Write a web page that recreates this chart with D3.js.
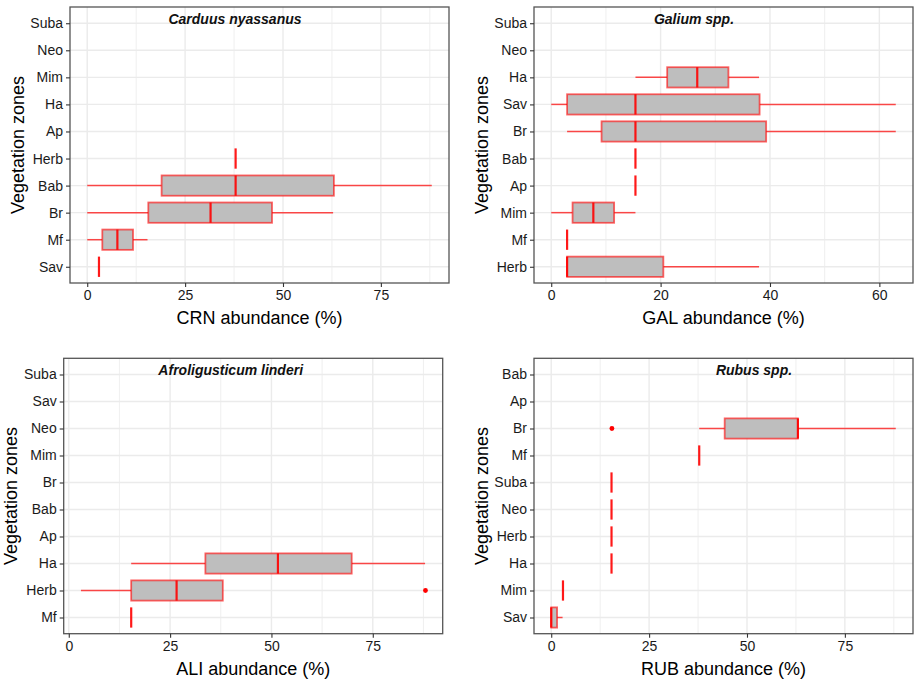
<!DOCTYPE html>
<html>
<head>
<meta charset="utf-8">
<script src="https://cdn.jsdelivr.net/npm/d3@7"></script>
<style>
  body { margin: 0; background: #fff; }
  svg { display: block; font-family: "Liberation Sans", Arial, sans-serif; }
</style>
</head>
<body>
<div id="chart"></div>
<script>
// ZONE ORDER (TOP TO BOTTOM) + BOX STATS PER PANEL
// each stat array: [low whisker, q1, median, q3, high whisker], null = no data
const crnZones = ["Suba", "Neo", "Mim", "Ha", "Ap", "Herb", "Bab", "Br", "Mf", "Sav"];
const crnStats = [null, null, null, null, null,
  [37.9, 37.9, 37.9, 37.9, 37.9],
  [0, 19, 37.9, 63, 88],
  [0, 15.6, 31.5, 47.2, 62.8],
  [0, 3.85, 7.7, 11.7, 15.4],
  [3, 3, 3, 3, 3]];
const crnOutliers = [];

const galZones = ["Suba", "Neo", "Ha", "Sav", "Br", "Bab", "Ap", "Mim", "Mf", "Herb"];
const galStats = [null, null,
  [15.4, 21.2, 26.7, 32.4, 38],
  [0, 2.9, 15.4, 38.1, 63],
  [2.9, 9.2, 15.4, 39.3, 63],
  [15.4, 15.4, 15.4, 15.4, 15.4],
  [15.4, 15.4, 15.4, 15.4, 15.4],
  [0, 3.9, 7.7, 11.5, 15.4],
  [2.9, 2.9, 2.9, 2.9, 2.9],
  [2.9, 2.9, 2.9, 20.5, 38]];
const galOutliers = [];

const aliZones = ["Suba", "Sav", "Neo", "Mim", "Br", "Bab", "Ap", "Ha", "Herb", "Mf"];
const aliStats = [null, null, null, null, null, null, null,
  [15.4, 33.7, 51.6, 69.8, 87.9],
  [3, 15.4, 26.6, 38, 38],
  [15.4, 15.4, 15.4, 15.4, 15.4]];
const aliOutliers = [["Herb", 88]];

const rubZones = ["Bab", "Ap", "Br", "Mf", "Suba", "Neo", "Herb", "Ha", "Mim", "Sav"];
const rubStats = [null, null,
  [37.8, 44.3, 63, 63, 88],
  [37.8, 37.8, 37.8, 37.8, 37.8],
  [15.4, 15.4, 15.4, 15.4, 15.4],
  [15.4, 15.4, 15.4, 15.4, 15.4],
  [15.4, 15.4, 15.4, 15.4, 15.4],
  [15.4, 15.4, 15.4, 15.4, 15.4],
  [3, 3, 3, 3, 3],
  [0, 0, 0, 1.5, 2.9]];
const rubOutliers = [["Br", 15.5]];

const titles = ["Carduus nyassanus", "Galium spp.", "Afroligusticum linderi", "Rubus spp."];
const xTitles = ["CRN abundance (%)", "GAL abundance (%)", "ALI abundance (%)", "RUB abundance (%)"];
const xTicks = [[0, 25, 50, 75], [0, 20, 40, 60], [0, 25, 50, 75], [0, 25, 50, 75]];

// PANEL FRAMES (PLOT AREA) + WHERE THE TITLE SITS
const panels = [
  { zones: crnZones, stats: crnStats, outliers: crnOutliers, x0: 70, y0: 7, w: 379, h: 276, titleX: 165, yLabX: 24 },
  { zones: galZones, stats: galStats, outliers: galOutliers, x0: 534, y0: 7, w: 379, h: 276, titleX: 160, yLabX: 488 },
  { zones: aliZones, stats: aliStats, outliers: aliOutliers, x0: 63.7, y0: 358.3, w: 379, h: 275.4, titleX: 167, yLabX: 17 },
  { zones: rubZones, stats: rubStats, outliers: rubOutliers, x0: 534, y0: 358.3, w: 379, h: 275.4, titleX: 220, yLabX: 488 }
];

const width = 914;
const height = 682;
const red = "#ff0000";

const svg = d3.select("#chart")
  .append("svg")
  .attr("width", width)
  .attr("height", height);

panels.forEach((p, k) => {
  const g = svg.append("g").attr("transform", `translate(${p.x0},${p.y0})`);

  // X RANGE FROM DATA WITH GGPLOT STYLE 5% PADDING
  const vals = [];
  p.stats.forEach(s => { if (s) vals.push(...s); });
  p.outliers.forEach(o => vals.push(o[1]));
  const lo = d3.min(vals), hi = d3.max(vals);
  const pad = (hi - lo) * 0.05;
  const x = d3.scaleLinear().domain([lo - pad, hi + pad]).range([0, p.w]);

  // DISCRETE Y WITH 0.6 EXPANSION
  const n = p.zones.length;
  const step = p.h / (n - 1 + 1.2);
  const y = d3.scalePoint().domain(p.zones).range([0.6 * step, p.h - 0.6 * step]);
  const boxH = step * 0.75;

  // GRID: MINOR THEN MAJOR
  const ticks = xTicks[k];
  const tstep = ticks[1] - ticks[0];
  const minor = d3.range(ticks[0] - tstep / 2, hi + pad, tstep).filter(v => v > lo - pad && v < hi + pad && !ticks.includes(v));
  g.selectAll(".minor").data(minor).join("line")
    .attr("x1", d => x(d)).attr("x2", d => x(d))
    .attr("y1", 0).attr("y2", p.h)
    .attr("stroke", "#ebebeb").attr("stroke-width", 0.8);
  g.selectAll(".vmajor").data(ticks).join("line")
    .attr("x1", d => x(d)).attr("x2", d => x(d))
    .attr("y1", 0).attr("y2", p.h)
    .attr("stroke", "#ebebeb").attr("stroke-width", 1.4);
  g.selectAll(".hmajor").data(p.zones).join("line")
    .attr("x1", 0).attr("x2", p.w)
    .attr("y1", d => y(d)).attr("y2", d => y(d))
    .attr("stroke", "#ebebeb").attr("stroke-width", 1.4);

  // BOXES
  const boxes = p.zones.map((z, i) => ({ zone: z, s: p.stats[i] })).filter(d => d.s);
  const bg = g.selectAll(".box").data(boxes).join("g");

  bg.append("line")
    .attr("x1", d => x(d.s[0])).attr("x2", d => x(d.s[1]))
    .attr("y1", d => y(d.zone)).attr("y2", d => y(d.zone))
    .attr("stroke", red).attr("stroke-opacity", 0.7).attr("stroke-width", 1.5);
  bg.append("line")
    .attr("x1", d => x(d.s[3])).attr("x2", d => x(d.s[4]))
    .attr("y1", d => y(d.zone)).attr("y2", d => y(d.zone))
    .attr("stroke", red).attr("stroke-opacity", 0.7).attr("stroke-width", 1.5);
  bg.append("rect")
    .attr("x", d => x(d.s[1]))
    .attr("width", d => x(d.s[3]) - x(d.s[1]))
    .attr("y", d => y(d.zone) - boxH / 2)
    .attr("height", boxH)
    .attr("fill", "#bebebe")
    .attr("stroke", red).attr("stroke-opacity", 0.6).attr("stroke-width", 1.8);
  bg.append("line")
    .attr("x1", d => x(d.s[2])).attr("x2", d => x(d.s[2]))
    .attr("y1", d => y(d.zone) - boxH / 2).attr("y2", d => y(d.zone) + boxH / 2)
    .attr("stroke", red).attr("stroke-opacity", 0.9).attr("stroke-width", 2.2);

  // OUTLIERS
  g.selectAll(".out").data(p.outliers).join("circle")
    .attr("cx", d => x(d[1])).attr("cy", d => y(d[0]))
    .attr("r", 2.4).attr("fill", red);

  // PANEL BORDER
  g.append("rect")
    .attr("width", p.w).attr("height", p.h)
    .attr("fill", "none").attr("stroke", "#555").attr("stroke-width", 1.3);

  // AXES
  const xAxis = g.append("g")
    .attr("transform", `translate(0,${p.h})`)
    .call(d3.axisBottom(x).tickValues(ticks).tickSize(4).tickPadding(3));
  const yAxis = g.append("g")
    .call(d3.axisLeft(y).tickSize(4).tickPadding(3));
  [xAxis, yAxis].forEach(a => {
    a.select(".domain").remove();
    a.selectAll(".tick line").attr("stroke", "#333").attr("stroke-width", 1.1);
    a.selectAll(".tick text")
      .attr("fill", "#1a1a1a")
      .style("font-size", "14px")
      .style("font-family", "'Liberation Sans', Arial, sans-serif");
  });

  // TITLES
  g.append("text")
    .attr("x", p.titleX).attr("y", 17)
    .attr("text-anchor", "middle")
    .style("font-size", "14px").style("font-weight", "bold").style("font-style", "italic")
    .attr("fill", "#111")
    .text(titles[k]);

  svg.append("text")
    .attr("x", p.x0 + p.w / 2).attr("y", p.y0 + p.h + 41)
    .attr("text-anchor", "middle")
    .style("font-size", "18px")
    .text(xTitles[k]);

  svg.append("text")
    .attr("transform", `translate(${p.yLabX},${p.y0 + p.h / 2}) rotate(-90)`)
    .attr("text-anchor", "middle")
    .style("font-size", "18px")
    .text("Vegetation zones");
});
</script>
</body>
</html>
